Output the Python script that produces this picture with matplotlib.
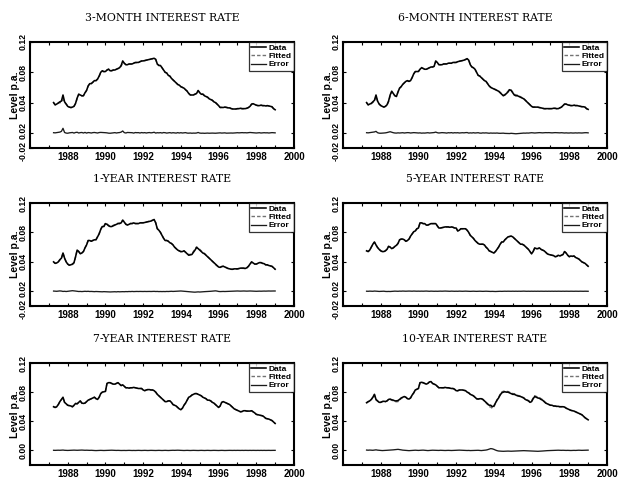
import numpy as np
import matplotlib
matplotlib.use("Agg")
import matplotlib.pyplot as plt
import matplotlib.transforms as mtransforms

# Monthly observations, Apr 1987 .. Jan 1999 (levels in percent p.a.)
start_year, start_month, n_months = 1987, 4, 142

titles = ["3-MONTH INTEREST RATE", "6-MONTH INTEREST RATE",
          "1-YEAR INTEREST RATE", "5-YEAR INTEREST RATE",
          "7-YEAR INTEREST RATE", "10-YEAR INTEREST RATE"]

rate_3m = [4.0, 3.7, 3.8, 3.95, 4.1, 4.2, 5.0, 4.1, 3.8,
           3.5, 3.4, 3.35, 3.4, 3.5, 3.9, 4.6, 5.1, 5.0, 4.9, 4.9, 5.3,
           5.6, 6.2, 6.5, 6.5, 6.7, 6.9, 6.9, 7.1, 7.5, 8.0, 8.2, 8.1,
           8.1, 8.3, 8.4, 8.2, 8.2, 8.3, 8.3, 8.4, 8.5, 8.6, 8.9, 9.5,
           9.2, 9.0, 9.0, 9.1, 9.1, 9.1, 9.2, 9.3, 9.3, 9.3, 9.4, 9.5,
           9.5, 9.55, 9.6, 9.65, 9.7, 9.75, 9.8, 9.85, 9.7, 9.1, 8.9, 8.9,
           8.6, 8.3, 8.0, 7.9, 7.6, 7.5, 7.2, 7.0, 6.8, 6.6, 6.4, 6.3,
           6.1, 6.0, 5.9, 5.7, 5.5, 5.2, 5.0, 5.0, 5.0, 5.1, 5.2, 5.6,
           5.3, 5.1, 5.1, 4.9, 4.8, 4.7, 4.5, 4.4, 4.3, 4.1, 4.0, 3.8,
           3.6, 3.35, 3.35, 3.35, 3.4, 3.35, 3.3, 3.3, 3.2, 3.15, 3.15, 3.15,
           3.2, 3.2, 3.25, 3.2, 3.2, 3.2, 3.25, 3.35, 3.5, 3.8, 3.85, 3.75,
           3.65, 3.6, 3.6, 3.65, 3.6, 3.6, 3.55, 3.6, 3.55, 3.5, 3.45, 3.2,
           3.05]

rate_6m = [4.0, 3.7, 3.8, 3.9, 4.1, 4.3, 5.0, 4.2, 3.8,
           3.6, 3.5, 3.4, 3.5, 3.7, 4.2, 5.0, 5.5, 5.2, 4.9, 4.8, 5.4,
           5.9, 6.1, 6.4, 6.6, 6.8, 6.9, 6.8, 6.9, 7.3, 7.8, 8.1, 8.1,
           8.1, 8.4, 8.6, 8.5, 8.4, 8.4, 8.5, 8.6, 8.7, 8.7, 8.8, 9.5,
           9.3, 9.0, 9.0, 9.0, 9.1, 9.1, 9.1, 9.2, 9.2, 9.2, 9.3, 9.3,
           9.3, 9.4, 9.45, 9.5, 9.55, 9.6, 9.7, 9.8, 9.6, 9.0, 8.7, 8.6,
           8.4, 8.0, 7.6, 7.5, 7.3, 7.1, 6.9, 6.8, 6.5, 6.2, 6.0, 5.9,
           5.8, 5.7, 5.6, 5.5, 5.3, 5.1, 4.9, 5.0, 5.2, 5.4, 5.7, 5.6,
           5.3, 5.0, 4.9, 4.9, 4.8, 4.7, 4.6, 4.5, 4.3, 4.1, 3.9, 3.7,
           3.5, 3.4, 3.4, 3.4, 3.4, 3.35, 3.3, 3.25, 3.2, 3.2, 3.2, 3.2,
           3.2, 3.2, 3.25, 3.25, 3.2, 3.2, 3.3, 3.4, 3.6, 3.8, 3.8, 3.7,
           3.65, 3.6, 3.6, 3.65, 3.6, 3.6, 3.55, 3.5, 3.45, 3.45, 3.4, 3.2,
           3.1]

rate_1y = [4.0, 3.8, 3.85, 4.0, 4.3, 4.5, 5.2, 4.5, 4.0,
           3.7, 3.55, 3.6, 3.7, 3.9, 4.7, 5.6, 5.4, 5.1, 5.2, 5.4, 5.9,
           6.3, 6.9, 6.9, 6.8, 6.9, 7.0, 7.0, 7.4, 7.8, 8.4, 8.8, 8.8,
           9.2, 9.1, 8.9, 8.8, 8.8, 8.9, 9.0, 9.1, 9.2, 9.2, 9.3, 9.65,
           9.4, 9.1, 9.0, 9.1, 9.2, 9.2, 9.3, 9.2, 9.2, 9.2, 9.3, 9.3,
           9.3, 9.35, 9.4, 9.45, 9.5, 9.55, 9.65, 9.75, 9.3, 8.5, 8.3, 8.0,
           7.6, 7.2, 6.9, 6.9, 6.8, 6.6, 6.5, 6.3, 6.0, 5.8, 5.6, 5.5,
           5.4, 5.4, 5.5, 5.3, 5.1, 4.9, 4.95, 5.0, 5.3, 5.6, 5.95, 5.8,
           5.6, 5.4, 5.2, 5.1, 4.9, 4.7, 4.5, 4.3, 4.1, 3.9, 3.7, 3.5,
           3.3, 3.25, 3.35, 3.4, 3.3, 3.2, 3.1, 3.05, 3.0, 3.0, 3.05, 3.05,
           3.05, 3.1, 3.15, 3.15, 3.15, 3.1, 3.2, 3.4, 3.7, 4.0, 3.85, 3.7,
           3.7, 3.8, 3.9, 3.9, 3.8, 3.75, 3.6, 3.6, 3.5, 3.45, 3.4, 3.2,
           3.0]

rate_5y = [5.5, 5.4, 5.6, 6.0, 6.4, 6.7, 6.3, 5.95, 5.7,
           5.5, 5.4, 5.4, 5.5, 5.7, 6.1, 6.0, 5.8, 5.9, 6.1, 6.25, 6.5,
           7.0, 7.1, 7.1, 7.0, 6.8, 6.9, 7.1, 7.5, 7.8, 8.1, 8.2, 8.5,
           8.6, 9.3, 9.3, 9.2, 9.2, 9.0, 9.0, 9.1, 9.2, 9.2, 9.2, 9.2,
           8.9, 8.6, 8.6, 8.65, 8.7, 8.75, 8.75, 8.75, 8.7, 8.75, 8.7, 8.6,
           8.6, 8.2, 8.3, 8.5, 8.5, 8.5, 8.5, 8.3, 8.0, 7.6, 7.4, 7.2,
           6.9, 6.7, 6.5, 6.4, 6.4, 6.4, 6.3, 6.0, 5.8, 5.5, 5.4, 5.3,
           5.2, 5.4, 5.7, 6.0, 6.4, 6.7, 6.7, 7.0, 7.2, 7.4, 7.45, 7.5,
           7.4, 7.2, 7.0, 6.8, 6.6, 6.4, 6.4, 6.3, 6.1, 5.9, 5.7, 5.4,
           5.1, 5.4, 5.9, 5.8, 5.8, 5.9, 5.7, 5.6, 5.5, 5.3, 5.1, 5.0,
           4.95, 4.9, 4.85, 4.7, 4.75, 4.9, 4.8, 4.9, 5.0, 5.4, 5.2, 4.9,
           4.7, 4.8, 4.75, 4.8, 4.6, 4.5, 4.4, 4.2, 4.0, 3.9, 3.8, 3.6,
           3.4]

rate_7y = [6.0, 5.9, 6.0, 6.3, 6.7, 7.0, 7.3, 6.6, 6.4,
           6.2, 6.15, 6.1, 6.0, 6.2, 6.45, 6.4, 6.6, 6.8, 6.5, 6.45, 6.5,
           6.7, 6.9, 7.0, 7.1, 7.2, 7.3, 7.1, 7.0, 7.3, 7.8, 8.0, 8.05,
           8.1, 9.2, 9.3, 9.3, 9.2, 9.1, 9.1, 9.2, 9.3, 9.1, 8.9, 9.0,
           8.8, 8.6, 8.6, 8.55, 8.6, 8.6, 8.65, 8.6, 8.55, 8.5, 8.5, 8.5,
           8.3, 8.2, 8.3, 8.35, 8.35, 8.3, 8.3, 8.2, 8.0, 7.7, 7.5, 7.3,
           7.1, 6.9, 6.7, 6.7, 6.8, 6.8, 6.6, 6.3, 6.2, 6.1, 5.9, 5.7,
           5.6, 5.8, 6.2, 6.5, 6.9, 7.3, 7.4, 7.6, 7.7, 7.8, 7.8, 7.7,
           7.6, 7.5, 7.3, 7.2, 7.1, 6.9, 6.9, 6.8, 6.6, 6.5, 6.3, 6.1,
           5.9, 6.1, 6.6, 6.7, 6.6, 6.5, 6.4, 6.3, 6.1, 5.9, 5.7, 5.6,
           5.5, 5.4, 5.3, 5.35, 5.45, 5.45, 5.4, 5.4, 5.4, 5.45, 5.3, 5.15,
           4.95, 4.9, 4.85, 4.8, 4.75, 4.6, 4.4, 4.35, 4.3, 4.2, 4.1, 3.9,
           3.7]

rate_10y = [6.55, 6.7, 6.8, 7.0, 7.3, 7.7, 7.0, 6.8, 6.6,
            6.6, 6.7, 6.75, 6.7, 6.8, 7.0, 7.05, 6.95, 6.9, 6.8, 6.8, 6.85,
            7.0, 7.2, 7.3, 7.4, 7.3, 7.1, 7.05, 7.2, 7.6, 7.9, 8.3, 8.4,
            8.5, 9.3, 9.35, 9.3, 9.2, 9.1, 9.2, 9.4, 9.45, 9.2, 9.1, 9.0,
            8.8, 8.6, 8.6, 8.6, 8.6, 8.65, 8.6, 8.6, 8.55, 8.5, 8.5, 8.4,
            8.2, 8.2, 8.3, 8.3, 8.3, 8.25, 8.2, 8.0, 7.9, 7.7, 7.6, 7.5,
            7.3, 7.1, 7.05, 7.1, 7.1, 7.0, 6.8, 6.6, 6.4, 6.2, 6.2, 6.0,
            6.1, 6.5, 6.9, 7.2, 7.6, 7.9, 8.0, 8.05, 8.0, 8.0, 7.9, 7.8,
            7.7, 7.7, 7.6, 7.5, 7.45, 7.4, 7.3, 7.2, 7.0, 6.9, 6.8, 6.6,
            6.7, 7.1, 7.4, 7.3, 7.2, 7.15, 7.0, 6.9, 6.7, 6.5, 6.4, 6.3,
            6.2, 6.2, 6.1, 6.1, 6.05, 6.05, 6.0, 6.0, 6.0, 5.95, 5.8, 5.7,
            5.6, 5.5, 5.45, 5.4, 5.3, 5.2, 5.1, 5.0, 4.9, 4.7, 4.5, 4.35,
            4.2]

# Pricing errors (data minus fitted), basis points
err_3m = [2, 0, 3, 5, 10, 20, 60, 5, -3,
          -5, 0, 2, 5, -3, 5, 8, -2, 3, 5, -2, 6,
          -3, 4, 2, -2, 3, 5, 2, -2, 4, 6, 5, 3,
          2, 0, -4, -5, -3, 0, 3, -2, 2, 4, 10, 25,
          3, -2, 5, 4, 3, 2, -3, 4, 2, 3, -2, 4,
          0, 3, -2, 2, 4, 0, 3, 8, -3, 2, 0, 3,
          -2, 4, 2, -3, 0, 3, -2, 2, 0, -3, 3, -2,
          2, -2, 0, 3, -3, -4, -2, -5, -3, -4, -2, 5,
          -3, -5, -4, -6, -4, -3, -5, -4, -3, -4, -5, -3,
          -2, 0, -3, -2, 0, -4, -3, -2, -2, -3, -2, 0,
          2, 0, 2, 3, 1, 2, 0, 2, 5, 3, 2, 0,
          -2, 0, 2, -2, 0, 2, 0, 1, -2, 0, 3, 2,
          0]

err_6m = [2, 0, 3, 5, 8, 12, 20, 2, -4,
          -5, -4, -2, 0, 4, 10, 15, 8, 2, -2, -3, 0,
          -2, 0, 2, -2, 0, 3, 2, -2, 0, 3, 2, 0,
          -2, 0, -4, -2, -3, 0, 2, -2, 0, 2, 4, 10,
          2, -2, 0, 3, 2, 0, -3, 2, 0, 3, -2, 2,
          0, 2, -2, 0, 2, 0, 3, 4, -3, 0, -2, 2,
          -2, 0, 2, -3, -4, 0, -2, 0, -3, -5, -2, -4,
          -3, -4, -2, -5, -6, -5, -4, -7, -8, -10, -9, -6,
          -8, -10, -12, -10, -8, -6, -5, -3, -4, -2, -3, 0,
          2, 0, -2, 0, 2, 3, 2, 0, 2, 3, 2, 3,
          2, 0, 2, 3, 2, 2, 0, 2, 0, -2, 0, -2,
          -2, 0, -2, -2, 0, -2, 0, -1, -2, 0, 2, 2,
          0]

err_1y = [3, 2, 0, 2, 5, 3, -2, 0, -3,
          0, 2, 5, 8, 6, 3, 0, -3, -2, -4, -2, 0,
          -2, 0, -3, -2, -4, -5, -3, -4, -6, -5, -7, -5,
          -6, -8, -7, -9, -8, -7, -6, -8, -5, -7, -6, -5,
          -6, -4, -5, -3, -4, -2, -4, -3, -2, -3, -2, -3,
          -3, -2, -3, -2, -2, -3, -2, -1, -3, -2, -4, -3,
          -4, -3, -4, -2, -3, -1, 0, -2, -1, 0, 2, 3,
          4, 2, 0, -3, -5, -7, -9, -10, -11, -12, -10, -8,
          -10, -8, -6, -5, -4, -2, -3, 0, 2, 4, 6, 3,
          -2, -4, -3, -2, -3, -2, -1, 0, 2, 3, 2, 3,
          4, 3, 2, 3, 4, 3, 2, 3, 4, 3, 2, 1,
          0, 1, 2, 1, 2, 3, 2, 3, 4, 3, 4, 4,
          4]

err_5y = [1, 0, 2, 1, 0, 3, 2, 0, -2,
          -1, 0, 1, -2, -3, -2, -3, -1, 0, 2, 1, 0,
          2, 1, 3, 2, 1, 2, 3, 2, 1, 3, 2, 1,
          2, 1, 2, 1, 2, 3, 1, 0, 2, 1, 0, 1,
          0, 1, 2, 1, 2, 3, 2, 1, 0, 2, 1, 0,
          1, 0, 2, 1, 0, 1, 2, 1, 0, -1, 0, 1,
          0, -1, 0, 1, 0, -1, 0, 1, 0, -1, -2, -1,
          -2, -3, -2, -1, 0, -1, 0, 1, 0, 1, 0, 0,
          1, 0, 1, 0, 1, 0, 1, 2, 1, 0, 1, 0,
          1, 0, 1, 0, 1, 0, 1, 0, 0, 1, 0, 1,
          0, 1, 0, 1, 0, 1, 0, 0, 1, 0, 1, 0,
          0, 1, 0, 0, 1, 0, 0, 1, 0, 0, 1, 0,
          0]

err_7y = [2, 1, 2, 3, 2, 4, 5, 2, 1,
          0, 1, 2, 3, 4, 3, 2, 3, 4, 5, 3, 2,
          3, 2, 1, 2, 0, -1, -2, -1, 0, 1, 0, -1,
          0, 2, 3, 4, 3, 2, 1, 0, 1, 0, -1, 0,
          0, -1, 0, 1, 0, -1, 0, -1, 0, 1, 0, -1,
          0, 1, 0, -1, 0, 1, 0, 0, -1, 0, 1, 0,
          -1, 0, 1, 0, -1, 0, 1, 2, 1, 2, 3, 2,
          1, 0, -1, 0, 1, 0, -1, 0, 1, 0, 0, -1,
          0, 1, 0, -1, 0, 1, 0, -1, 0, 1, 0, 0,
          -1, 0, 1, 0, -1, 0, 0, 1, 0, 0, 1, 0,
          1, 0, 0, 1, 0, 1, 0, 0, 1, 0, 1, 0,
          0, 1, 0, 1, 0, 1, 0, 1, 1, 0, 1, 1,
          1]

err_10y = [5, 3, 5, 4, 2, 5, 8, 4, 2,
           0, -2, -1, 0, 2, 4, 5, 6, 8, 10, 12, 15,
           12, 8, 4, 2, 0, -2, -3, -2, 0, 2, 3, 2,
           0, 2, 3, 4, 2, 0, -2, 0, 2, 3, 2, 0,
           -1, 0, 2, 1, 0, -1, 0, 1, 0, -1, 0, 1,
           2, 3, 4, 3, 2, 1, 0, -1, 0, -2, -1, 0,
           2, 3, 2, 0, -2, 0, 2, 5, 10, 18, 25, 22,
           15, 5, -3, -8, -10, -11, -12, -11, -10, -9, -10, -11,
           -10, -9, -8, -7, -6, -5, -4, -3, -4, -5, -6, -8,
           -9, -10, -11, -12, -12, -11, -10, -8, -6, -4, -3, -2,
           0, 1, 2, 3, 2, 3, 2, 1, 2, 1, 0, 1,
           0, -1, 0, 1, 0, 2, 3, 2, 1, 2, 3, 4,
           4]

levels = [rate_3m, rate_6m, rate_1y, rate_5y, rate_7y, rate_10y]
errors = [err_3m, err_6m, err_1y, err_5y, err_7y, err_10y]

legend_labels = ["Data", "Fitted", "Error"]
x_ticks = [1988, 1990, 1992, 1994, 1996, 1998, 2000]
y_ticks_top = [-0.02, 0.0, 0.04, 0.08, 0.12]
y_ticklabels_top = ["-0.02", "0.02", "0.04", "0.08", "0.12"]
y_ticks_bottom = [0.0, 0.04, 0.08, 0.12]
y_ticklabels_bottom = ["0.00", "0.04", "0.08", "0.12"]
y_label = "Level p.a."

# ---------------------------------------------------------------
months = np.arange(n_months)
t = start_year + (start_month - 1 + months) / 12.0

W, H = 618, 479
fig = plt.figure(figsize=(W / 100, H / 100), dpi=100)

col_left = [30, 343]
col_width = 264
row_tops = [42, 203, 363]
row_heights = [106, 103, 102]

ytick_size = 6.2
ytick_pad = 2.0
# small vertical nudges (points) so the two lowest labels sit side by side
label_nudge = {"-0.02": -2.2, "0.02": 2.0}

for k in range(6):
    r, c = divmod(k, 2)
    left = col_left[c] / W
    bottom = 1 - (row_tops[r] + row_heights[r]) / H
    ax = fig.add_axes([left, bottom, col_width / W, row_heights[r] / H])

    data = np.array(levels[k]) / 100.0
    err = np.array(errors[k]) / 10000.0
    fitted = data - err

    ax.plot(t, fitted, color="0.45", lw=1.0, ls=(0, (2.5, 1.5)),
            label=legend_labels[1], zorder=2)
    ax.plot(t, data, color="black", lw=1.15, label=legend_labels[0], zorder=3)
    ax.plot(t, err, color="0.1", lw=0.95, label=legend_labels[2], zorder=3)

    ax.set_xlim(1986, 2000)
    ax.set_ylim(-0.02, 0.12)
    ax.set_xticks(x_ticks)
    ax.set_xticks(np.arange(1986, 2001), minor=True)
    if r < 2:
        ticks, labels = y_ticks_top, y_ticklabels_top
    else:
        ticks, labels = y_ticks_bottom, y_ticklabels_bottom
    ax.set_yticks(ticks)
    shown = [("" if lab in label_nudge else lab) for lab in labels]
    ax.set_yticklabels(shown)
    ytrans = mtransforms.blended_transform_factory(ax.transAxes, ax.transData)
    for val, lab in zip(ticks, labels):
        if lab in label_nudge:
            off = mtransforms.ScaledTranslation(-ytick_pad / 72.0,
                                                label_nudge[lab] / 72.0,
                                                fig.dpi_scale_trans)
            ax.text(0, val, lab, transform=ytrans + off, rotation=90,
                    ha="right", va="center", family="Liberation Sans",
                    weight="bold", fontsize=ytick_size, clip_on=False)

    ax.tick_params(axis="both", which="both", direction="in",
                   top=True, right=True, length=2, width=0.8)
    ax.tick_params(axis="x", which="major", pad=3)
    ax.tick_params(axis="y", which="major", pad=ytick_pad)
    for lab in ax.get_xticklabels():
        lab.set_fontfamily("Liberation Sans")
        lab.set_fontsize(7)
        lab.set_fontweight("bold")
    for lab in ax.get_yticklabels():
        lab.set_fontfamily("Liberation Sans")
        lab.set_fontweight("bold")
        lab.set_fontsize(ytick_size)
        lab.set_rotation(90)
        lab.set_va("center")

    for sp in ax.spines.values():
        sp.set_linewidth(1.5)
        sp.set_color("black")

    ax.set_ylabel(y_label, family="Liberation Sans", weight="bold",
                  fontsize=7.5, labelpad=-1)
    ax.set_title(titles[k], family="DejaVu Serif", fontsize=7.8, pad=15)

    handles, labs = ax.get_legend_handles_labels()
    order = [labs.index(n) for n in legend_labels]
    leg = ax.legend([handles[i] for i in order], [labs[i] for i in order],
                    loc="upper right", borderaxespad=0.0, fancybox=False,
                    frameon=True, handlelength=1.9, handletextpad=0.3,
                    borderpad=0.25, labelspacing=0.05,
                    prop=dict(family="Liberation Sans", weight="bold", size=6))
    leg.get_frame().set_edgecolor("black")
    leg.get_frame().set_linewidth(0.9)

fig.savefig("out.png", dpi=100)
